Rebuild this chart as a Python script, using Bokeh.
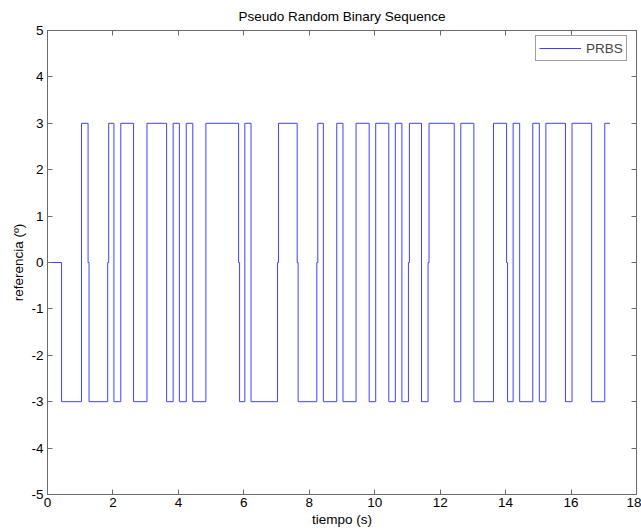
from bokeh.plotting import figure
from bokeh.models import (Range1d, LinearAxis, FixedTicker, Legend, LegendItem,
                          CustomJSTickFormatter)
from bokeh.embed import file_html
from bokeh.resources import INLINE

# PRBS reference signal: switching instants (s) and the level held after each one
switch_times = [0.43, 1.04, 1.24, 1.84, 2.03, 2.24, 2.63, 3.04, 3.64, 3.84,
                4.03, 4.24, 4.44, 4.84, 5.84, 6.03, 6.22, 7.03, 7.63, 8.23,
                8.43, 8.84, 9.03, 9.43, 9.83, 10.03, 10.43, 10.63, 10.83, 11.03,
                11.43, 11.63, 12.43, 12.63, 13.03, 13.63, 14.03, 14.23, 14.43, 14.83,
                15.03, 15.23, 15.83, 16.03, 16.63, 17.03]
initial_level = 0
levels = [-3, 3, -3, 3, -3, 3, -3, 3, -3, 3,
          -3, 3, -3, 3, -3, 3, -3, 3, -3, 3,
          -3, 3, -3, 3, -3, 3, -3, 3, -3, 3,
          -3, 3, -3, 3, -3, 3, -3, 3, -3, 3,
          -3, 3, -3, 3, -3, 3]
# switches where one sample sits at 0 on the way between levels
zero_samples = [1.24, 1.84, 5.84, 7.03, 7.63, 8.23, 11.03, 11.63, 14.03]
zero_hold = 0.03
t_end = 17.19

x_ticks = [0, 2, 4, 6, 8, 10, 12, 14, 16, 18]
y_ticks = [-5, -4, -3, -2, -1, 0, 1, 2, 3, 4, 5]

# build the staircase trace
ts = [0.0]
ys = [initial_level]
prev = initial_level
for t, lvl in zip(switch_times, levels):
    ts.append(t)
    ys.append(prev)
    if t in zero_samples:
        ts += [t, t + zero_hold]
        ys += [0, 0]
        t = t + zero_hold
    ts.append(t)
    ys.append(lvl)
    prev = lvl
ts.append(t_end)
ys.append(prev)

FONT = "Liberation Sans"
FS = "13.5px"
AXIS_GRAY = "#6a6a6a"

p = figure(width=641, height=532, x_range=Range1d(0, 18), y_range=Range1d(-5, 5),
           output_backend="svg", toolbar_location=None,
           title="Pseudo Random Binary Sequence",
           min_border_left=47, min_border_right=5, min_border_top=30, min_border_bottom=38,
           background_fill_color="white", border_fill_color="white")
p.title.align = "center"
p.title.text_font = FONT
p.title.text_font_size = FS
p.title.text_font_style = "normal"
p.title.text_color = "#000000"
p.title.standoff = 13
p.outline_line_color = AXIS_GRAY
p.xgrid.visible = False
p.ygrid.visible = False

def style_axis(ax, ticks, show_labels):
    ax.ticker = FixedTicker(ticks=ticks)
    ax.major_tick_in = 5
    ax.major_tick_out = 0
    ax.minor_tick_line_color = None
    ax.axis_line_color = AXIS_GRAY
    ax.major_tick_line_color = AXIS_GRAY
    ax.major_label_text_font = FONT
    ax.major_label_text_color = "#000000"
    if show_labels:
        # plain hyphen for negative numbers
        ax.major_label_overrides = {v: str(v) for v in ticks}
        ax.major_label_text_font_size = FS
    else:
        ax.formatter = CustomJSTickFormatter(code="return '';")
        ax.major_label_text_font_size = "1px"
        ax.major_label_standoff = 0

xa = p.xaxis[0]
style_axis(xa, x_ticks, True)
xa.major_label_standoff = 3
xa.axis_label = "tiempo (s)"
xa.axis_label_text_font = FONT
xa.axis_label_text_font_size = FS
xa.axis_label_text_font_style = "normal"
xa.axis_label_text_color = "#000000"
xa.axis_label_standoff = 2

ya = p.yaxis[0]
style_axis(ya, y_ticks, True)
ya.major_label_standoff = 4
ya.axis_label = "referencia (º)"
ya.axis_label_text_font = FONT
ya.axis_label_text_font_size = FS
ya.axis_label_text_font_style = "normal"
ya.axis_label_text_color = "#000000"
ya.axis_label_standoff = 2

top_ax = LinearAxis()
style_axis(top_ax, x_ticks, False)
p.add_layout(top_ax, "above")
right_ax = LinearAxis()
style_axis(right_ax, y_ticks, False)
p.add_layout(right_ax, "right")

line = p.line(ts, ys, line_color="#3f3fff", line_width=1)

legend = Legend(items=[LegendItem(label="PRBS", renderers=[line])],
                location=(488, 433),
                label_text_font=FONT, label_text_font_size=FS,
                glyph_width=42, glyph_height=18, label_height=18,
                label_standoff=5, padding=3, margin=0,
                border_line_color="#404040", border_line_width=1,
                background_fill_color="white")
p.add_layout(legend)

open("out.html", "w").write(file_html(p, INLINE))
